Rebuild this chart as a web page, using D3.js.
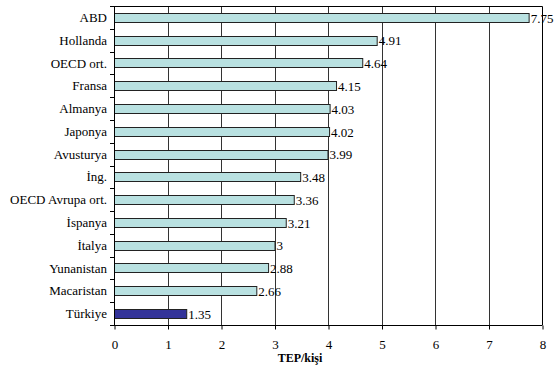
<!DOCTYPE html>
<html>
<head>
<meta charset="utf-8">
<script src="https://cdn.jsdelivr.net/npm/d3@7"></script>
<style>
  html, body { margin: 0; padding: 0; background: #fff; }
</style>
</head>
<body>
<svg id="chart" width="555" height="370"></svg>
<script>
// Per-capita energy consumption (TEP per person)
const countries = ["ABD", "Hollanda", "OECD ort.", "Fransa", "Almanya", "Japonya", "Avusturya",
  "İng.", "OECD Avrupa ort.", "İspanya", "İtalya", "Yunanistan", "Macaristan", "Türkiye"];
const values = [7.75, 4.91, 4.64, 4.15, 4.03, 4.02, 3.99, 3.48, 3.36, 3.21, 3, 2.88, 2.66, 1.35];
const xTicks = [0, 1, 2, 3, 4, 5, 6, 7, 8];
const highlight = "Türkiye";
const axisTitle = "TEP/kişi";

const FONT = "'Liberation Serif', 'Times New Roman', 'DejaVu Serif', serif";

const data = countries.map((c, i) => ({ name: c, value: values[i] }));

const svg = d3.select("#chart").attr("font-family", FONT);
const plotLeft = 114, plotRight = 542, plotTop = 6, plotBottom = 325;

const x = d3.scaleLinear().domain([0, 8]).range([plotLeft, plotRight]);
const y = d3.scaleBand().domain(countries).range([plotTop, plotBottom]).paddingInner(0.6).paddingOuter(0.3);

// Vertical gridlines
svg.append("g").selectAll("line").data(xTicks.slice(1, -1)).join("line")
  .attr("x1", d => Math.round(x(d)) + 0.5).attr("x2", d => Math.round(x(d)) + 0.5)
  .attr("y1", plotTop).attr("y2", plotBottom)
  .attr("stroke", "#333").attr("stroke-width", 1);

// Plot frame (top and right)
svg.append("path")
  .attr("d", `M${plotLeft},${plotTop + 0.5}H${plotRight + 0.5}V${plotBottom}`)
  .attr("fill", "none").attr("stroke", "#000");

// Bars
svg.append("g").selectAll("rect").data(data).join("rect")
  .attr("x", x(0) + 0.5)
  .attr("y", d => Math.round(y(d.name)) + 0.5)
  .attr("width", d => x(d.value) - x(0))
  .attr("height", Math.round(y.bandwidth()))
  .attr("fill", d => d.name === highlight ? "#333399" : "#b9e1e1")
  .attr("stroke", "#222").attr("stroke-width", 1);

// Value labels
svg.append("g").selectAll("text").data(data).join("text")
  .attr("x", d => x(d.value) + 2)
  .attr("y", d => y(d.name) + y.bandwidth() / 2)
  .attr("dy", "0.4em")
  .attr("font-size", 13)
  .style("font-family", FONT)
  .text(d => d.value);

// Category axis with ticks on band boundaries
const bandStep = (plotBottom - plotTop) / countries.length;
svg.append("line").attr("x1", plotLeft + 0.5).attr("x2", plotLeft + 0.5).attr("y1", plotTop).attr("y2", plotBottom)
  .attr("stroke", "#000");
svg.append("g").selectAll("line").data(d3.range(countries.length + 1)).join("line")
  .attr("x1", plotLeft - 4).attr("x2", plotLeft)
  .attr("y1", i => Math.round(plotTop + i * bandStep) + 0.5)
  .attr("y2", i => Math.round(plotTop + i * bandStep) + 0.5)
  .attr("stroke", "#000");
svg.append("g").selectAll("text").data(countries).join("text")
  .attr("x", plotLeft - 7)
  .attr("y", d => plotTop + (countries.indexOf(d) + 0.5) * bandStep)
  .attr("dy", "0.35em")
  .attr("text-anchor", "end")
  .attr("font-size", 13)
  .style("font-family", FONT)
  .text(d => d);

// Value axis
const xAxis = d3.axisBottom(x).tickValues(xTicks).tickSize(4).tickFormat(d3.format("d"));
const gx = svg.append("g").attr("transform", `translate(0.5,${plotBottom + 0.5})`).call(xAxis)
  .attr("font-family", FONT).attr("font-size", 13);
gx.select(".domain").attr("stroke", "#000").attr("d", `M${plotLeft - 0.5},0H${plotRight}`);
gx.selectAll(".tick line").attr("stroke", "#000");
gx.selectAll(".tick text").style("font-family", FONT).attr("y", 14);

svg.append("text")
  .attr("x", 300).attr("y", 362)
  .attr("text-anchor", "middle")
  .attr("font-size", 12).attr("font-weight", "bold")
  .style("font-family", FONT)
  .text(axisTitle);
</script>
</body>
</html>
